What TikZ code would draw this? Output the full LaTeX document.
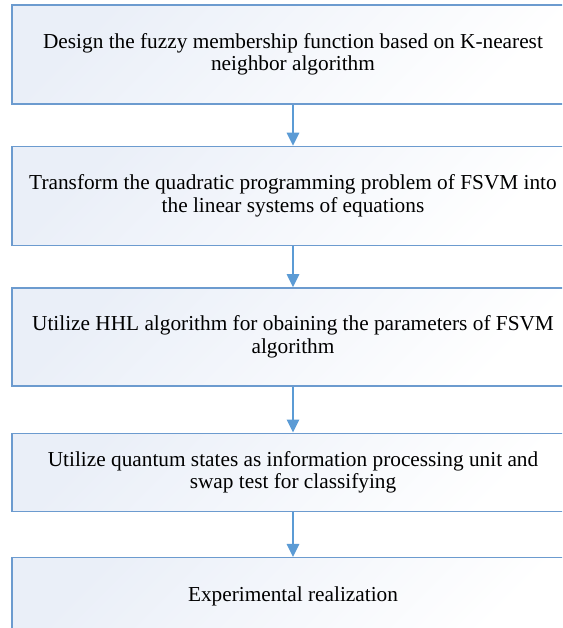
\documentclass[tikz,border=0pt]{standalone}
\usepackage{fontspec}
\setmainfont{Liberation Serif}
\usetikzlibrary{positioning,arrows.meta}
\definecolor{edgeblue}{HTML}{6C9BCF}
\definecolor{arrowblue}{HTML}{5B9BD5}
\definecolor{paleblue}{HTML}{EAEFF8}
\begin{document}
\begin{tikzpicture}
    [x=1pt, y=1pt,
     stepbox/.style={draw=edgeblue, line width=1.4pt, top color=paleblue, bottom color=white, shading angle=45,
                     minimum width=562pt, align=center, font=\fontsize{21.3}{22.5}\selectfont, inner sep=0pt},
     flow/.style={draw=arrowblue, line width=1.5pt, -{Triangle[length=13pt, width=12.5pt]}}]
    \clip (0,0) rectangle (562,-628);
    \node[stepbox, minimum height=99pt] (design) at (293,-54.5)
        {Design the fuzzy membership function based on K-nearest\\neighbor algorithm};
    \node[stepbox, minimum height=99pt, below=41pt of design] (transform)
        {Transform the quadratic programming problem of FSVM into\\the linear systems of equations};
    \node[stepbox, minimum height=98pt, below=41pt of transform] (hhl)
        {Utilize HHL algorithm for obaining the parameters of FSVM\\algorithm};
    \node[stepbox, minimum height=78pt, below=46pt of hhl] (swap)
        {Utilize quantum states as information processing unit and\\swap test for classifying};
    \node[stepbox, minimum height=78pt, below=45pt of swap] (exp)
        {Experimental realization};
    \draw[flow] (design) -- (transform);
    \draw[flow] (transform) -- (hhl);
    \draw[flow] (hhl) -- (swap);
    \draw[flow] (swap) -- (exp);
\end{tikzpicture}
\end{document}
